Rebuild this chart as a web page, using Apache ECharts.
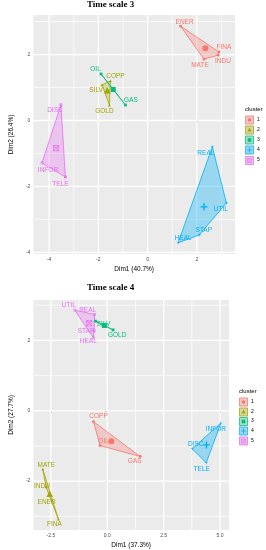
<!DOCTYPE html>
<html><head><meta charset="utf-8">
<script src="https://cdn.jsdelivr.net/npm/echarts@6/dist/echarts.min.js"></script>
<style>html,body{margin:0;padding:0;background:#fff}#c{width:266px;height:550px}</style>
</head><body><div id="c"></div>
<script>
// ---------- data: time scale 3 ----------
const names3   = ['ENER','FINA','INDU','MATE','COPP','SILV','GOLD','OIL','GAS','REAL','UTIL','STAP','HEAL','DISC','INFOR','TELE'];
const x3       = [1.34, 2.90, 2.86, 2.29, -1.51, -1.85, -1.55, -1.89, -0.90, 2.63, 3.20, 2.10, 1.24, -3.52, -4.29, -3.34];
const y3       = [2.86, 2.08, 1.98, 1.86, 1.20, 1.08, 0.47, 1.41, 0.47, -0.80, -2.50, -3.47, -3.71, 0.47, -1.29, -1.71];
const cluster3 = [1,1,1,1,2,2,2,3,3,4,4,4,4,5,5,5];
const xTicks3  = [-4,-2,0,2];
const yTicks3  = [-4,-2,0,2];
const xMinor3  = [-3,-1,1,3];
const yMinor3  = [-3,-1,1,3];
const xRange3  = [-4.64, 3.55];
const yRange3  = [-4.05, 3.2];
// ---------- data: time scale 4 ----------
const names4   = ['COPP','OIL','GAS','MATE','INDU','ENER','FINA','SILV','GOLD','INFOR','DISC','TELE','UTIL','REAL','STAP','HEAL'];
const x4       = [-0.61, -0.32, 1.46, -2.86, -2.72, -2.47, -2.17, -0.52, 0.26, 5.04, 3.77, 4.39, -1.44, -0.56, -0.59, -0.62];
const y4       = [-0.31, -0.99, -1.30, -1.66, -2.16, -2.54, -3.08, 2.55, 2.30, -0.35, -1.08, -1.48, 2.86, 2.74, 2.27, 2.08];
const cluster4 = [1,1,1,2,2,2,2,3,3,4,4,4,5,5,5,5];
const xTicks4  = [-2.5,0,2.5,5];
const yTicks4  = [-2,0,2];
const xMinor4  = [-1.25,1.25,3.75];
const yMinor4  = [-3,-1,1,3];
const xRange4  = [-3.28, 5.4];
const yRange4  = [-3.39, 3.15];
const clusters = [1,2,3,4,5];

// ---------- styling (label offsets in px, colours, symbols) ----------
const colors = ['#F8766D','#A3A500','#00BF7D','#00B0F6','#E76BF3'];
const fills  = ['rgba(248,118,109,0.3)','rgba(163,165,0,0.3)','rgba(0,191,125,0.3)','rgba(0,176,246,0.35)','rgba(231,107,243,0.3)'];
const plusPath = 'path://M4,0H6V4H10V6H6V10H4V6H0V4H4Z';
const boxXPath = 'path://M0,0H10V10H0ZM1,1V9H9V1ZM1,0L10,9L9,10L0,1ZM9,0L10,1L1,10L0,9Z';
const symbols = ['circle','triangle','rect',plusPath,boxXPath];
const centerSizes = [6,6.5,5,7,6];
const off3 = {ENER:[4,-4.5],FINA:[5,-4.5],INDU:[5,6],MATE:[-4,6],OIL:[-5.5,-4.5],COPP:[5,-5],SILV:[-6,5.5],GOLD:[-5,6.5],GAS:[5.5,-4.5],
  DISC:[-6,5],INFOR:[6,7],TELE:[-5,7],REAL:[-6.5,6.5],UTIL:[-5.5,6],STAP:[4.5,-5],HEAL:[5,-5]};
const off4 = {UTIL:[-6,-5],REAL:[-7,-4],STAP:[-8,0],HEAL:[-5,4],SILV:[8,3],GOLD:[4,5.5],COPP:[5,-5],OIL:[3.5,-4],GAS:[-5.5,5],
  INFOR:[-5,6],DISC:[3.5,-4.5],TELE:[-4.5,6],MATE:[3.5,-3.5],INDU:[-4,-1],ENER:[-5,2],FINA:[-4,5]};

function hull(pts){
  const p = pts.slice().sort((a,b)=>a[0]-b[0]||a[1]-b[1]);
  if (p.length<3) return p;
  const cr=(o,a,b)=>(a[0]-o[0])*(b[1]-o[1])-(a[1]-o[1])*(b[0]-o[0]);
  const lo=[],up=[];
  for(const q of p){while(lo.length>=2&&cr(lo[lo.length-2],lo[lo.length-1],q)<=0)lo.pop();lo.push(q);}
  for(let i=p.length-1;i>=0;i--){const q=p[i];while(up.length>=2&&cr(up[up.length-2],up[up.length-1],q)<=0)up.pop();up.push(q);}
  up.pop();lo.pop();return lo.concat(up);
}

function gridLineSeries(gi, xr, yr, xMaj, xMin, yMaj, yMin){
  const out=[];
  const mk=(data,w)=>({type:'line',xAxisIndex:gi,yAxisIndex:gi,z:2,silent:true,symbol:'none',
    lineStyle:{color:'#FFFFFF',width:w,type:'solid',opacity:1},data:data,emphasis:{disabled:true},tooltip:{show:false}});
  xMaj.forEach(v=>out.push(mk([[v,yr[0]],[v,yr[1]]],1.3)));
  xMin.forEach(v=>out.push(mk([[v,yr[0]],[v,yr[1]]],0.7)));
  yMaj.forEach(v=>out.push(mk([[xr[0],v],[xr[1],v]],1.3)));
  yMin.forEach(v=>out.push(mk([[xr[0],v],[xr[1],v]],0.7)));
  return out;
}

function buildSeries(gi, names, xs, ys, cl, offs, xr, yr, xMaj, xMin, yMaj, yMin){
  const out = gridLineSeries(gi,xr,yr,xMaj,xMin,yMaj,yMin);
  clusters.forEach((c,ci)=>{
    const pts=[];names.forEach((n,i)=>{if(cl[i]===c)pts.push([xs[i],ys[i],n]);});
    const h=hull(pts.map(p=>[p[0],p[1]]));
    out.push({type:'custom',xAxisIndex:gi,yAxisIndex:gi,z:3,silent:true,clip:true,
      data:[[pts[0][0],pts[0][1]]],
      renderItem:(params,api)=>{
        const P=h.map(q=>api.coord(q));
        return {type:'polygon',shape:{points:P},style:{fill:fills[ci],stroke:colors[ci],lineWidth:0.8}};
      }});
    out.push({type:'scatter',name:String(c),xAxisIndex:gi,yAxisIndex:gi,z:4,symbol:symbols[ci],symbolSize:2.8,
      itemStyle:{color:colors[ci],opacity:1},
      data:pts.map(p=>({value:[p[0],p[1]],name:p[2],
        label:{show:true,position:'inside',offset:offs[p[2]],formatter:p[2],color:colors[ci],fontSize:6.5,fontFamily:'Liberation Sans'}})),
      emphasis:{disabled:true}});
    const mx=pts.reduce((s,p)=>s+p[0],0)/pts.length, my=pts.reduce((s,p)=>s+p[1],0)/pts.length;
    out.push({type:'scatter',xAxisIndex:gi,yAxisIndex:gi,z:5,symbol:symbols[ci],symbolSize:centerSizes[ci],
      itemStyle:{color:colors[ci],opacity:1},data:[[mx,my]],emphasis:{disabled:true}});
  });
  return out;
}

function axisX(gi,r,ticks,name,fmt){
  return {gridIndex:gi,type:'value',min:r[0],max:r[1],axisLine:{show:false},splitLine:{show:false},
    axisTick:{show:true,length:2,lineStyle:{color:'#333333',width:0.6},customValues:ticks},
    axisLabel:{customValues:ticks,fontSize:5,color:'#4D4D4D',margin:3,fontFamily:'Liberation Sans',formatter:fmt},
    name:name,nameLocation:'middle',nameGap:12,nameTextStyle:{fontSize:6.5,color:'#000',fontFamily:'Liberation Sans'}};
}
function axisY(gi,r,ticks,name){
  return {gridIndex:gi,type:'value',min:r[0],max:r[1],axisLine:{show:false},splitLine:{show:false},
    axisTick:{show:true,length:2,lineStyle:{color:'#333333',width:0.6},customValues:ticks},
    axisLabel:{customValues:ticks,fontSize:5,color:'#4D4D4D',margin:3,fontFamily:'Liberation Sans'},
    name:name,nameLocation:'middle',nameGap:11,nameTextStyle:{fontSize:6.5,color:'#000',fontFamily:'Liberation Sans'}};
}

function legend(x0,yTitle,yKeys){
  const g=[{type:'text',left:x0,top:yTitle-4,style:{text:'cluster',fontSize:6,fill:'#000',fontFamily:'Liberation Sans'}}];
  clusters.forEach((c,ci)=>{
    const cx=x0+4.5, cy=yKeys[ci];
    g.push({type:'rect',shape:{x:cx-4.5,y:cy-4.5,width:9,height:9},style:{fill:'#EBEBEB',stroke:null}});
    g.push({type:'rect',shape:{x:cx-4,y:cy-4,width:8,height:8},style:{fill:fills[ci],stroke:colors[ci],lineWidth:0.7}});
    const col=colors[ci];
    if(ci===0) g.push({type:'circle',shape:{cx:cx,cy:cy,r:1.8},style:{fill:col}});
    if(ci===1) g.push({type:'polygon',shape:{points:[[cx,cy-2.2],[cx+2.2,cy+1.6],[cx-2.2,cy+1.6]]},style:{fill:col}});
    if(ci===2) g.push({type:'rect',shape:{x:cx-1.8,y:cy-1.8,width:3.6,height:3.6},style:{fill:col}});
    if(ci===3){g.push({type:'line',shape:{x1:cx-2.5,y1:cy,x2:cx+2.5,y2:cy},style:{stroke:col,lineWidth:0.8}});
               g.push({type:'line',shape:{x1:cx,y1:cy-2.5,x2:cx,y2:cy+2.5},style:{stroke:col,lineWidth:0.8}});}
    if(ci===4){g.push({type:'rect',shape:{x:cx-2,y:cy-2,width:4,height:4},style:{fill:'none',stroke:col,lineWidth:0.6}});
               g.push({type:'line',shape:{x1:cx-2,y1:cy-2,x2:cx+2,y2:cy+2},style:{stroke:col,lineWidth:0.6}});
               g.push({type:'line',shape:{x1:cx+2,y1:cy-2,x2:cx-2,y2:cy+2},style:{stroke:col,lineWidth:0.6}});}
    g.push({type:'text',left:x0+12,top:cy-3,style:{text:String(c),fontSize:5,fill:'#000',fontFamily:'Liberation Sans'}});
  });
  return g;
}

const chart = echarts.init(document.getElementById('c'),null,{renderer:'canvas'});
chart.setOption({
  animation:false,
  backgroundColor:'#FFFFFF',
  title:[
    {text:'Time scale 3',left:87,top:0,padding:0,textStyle:{fontSize:9,fontWeight:'bold',fontFamily:'Liberation Serif',color:'#000'}},
    {text:'Time scale 4',left:87,top:283,padding:0,textStyle:{fontSize:9,fontWeight:'bold',fontFamily:'Liberation Serif',color:'#000'}}
  ],
  grid:[
    {left:18,top:15,width:217,height:239,show:true,backgroundColor:'#EBEBEB',borderWidth:0},
    {left:18,top:300,width:211,height:232,show:true,backgroundColor:'#EBEBEB',borderWidth:0}
  ],
  xAxis:[axisX(0,xRange3,xTicks3,'Dim1 (40.7%)',v=>String(v)), axisX(1,xRange4,xTicks4,'Dim1 (37.3%)',v=>v.toFixed(1))],
  yAxis:[axisY(0,yRange3,yTicks3,'Dim2 (26.4%)'), axisY(1,yRange4,yTicks4,'Dim2 (27.7%)')],
  series:[].concat(
    buildSeries(0,names3,x3,y3,cluster3,off3,xRange3,yRange3,xTicks3,xMinor3,yTicks3,yMinor3),
    buildSeries(1,names4,x4,y4,cluster4,off4,xRange4,yRange4,xTicks4,xMinor4,yTicks4,yMinor4)),
  graphic:legend(245,110,[120,130,140,150,160.5]).concat(legend(239,392,[402,412,421.5,431,441]))
});
</script></body></html>
